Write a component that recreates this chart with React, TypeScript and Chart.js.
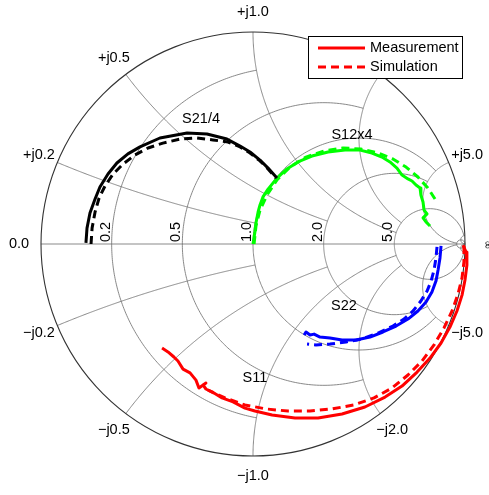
import { useEffect, useRef } from "react";
import { Chart, registerables } from "chart.js";
Chart.register(...registerables);

// Smith chart grid: circle values and the limit each arc is drawn to
const gridValues = [0.2, 0.5, 1, 2, 5, 50];
const gridLimits = [1, 2, 5, 5, 50, Infinity];
const resistanceLabelValues = [0.2, 0.5, 1, 2, 5];
const resistanceLabels = ["0.2", "0.5", "1.0", "2.0", "5.0"];
const reactanceLabelValues = [0.2, 0.5, 1, 2, 5];
const reactanceLabels = ["0.2", "0.5", "1.0", "2.0", "5.0"];

// Reflection coefficients (real / imaginary)
const s21MeasRe = [-0.788, -0.783, -0.769, -0.745, -0.722, -0.684, -0.642, -0.59, -0.533, -0.439, -0.311, -0.217, -0.123, -0.061, -0.014, 0.033, 0.071, 0.113];
const s21MeasIm = [0.005, 0.075, 0.146, 0.212, 0.269, 0.33, 0.382, 0.425, 0.458, 0.5, 0.524, 0.519, 0.495, 0.462, 0.434, 0.396, 0.358, 0.311];
const s21SimRe = [-0.764, -0.759, -0.745, -0.726, -0.698, -0.66, -0.613, -0.557, -0.495, -0.425, -0.344, -0.264, -0.189, -0.118, -0.061, -0.014, 0.033, 0.071, 0.108];
const s21SimIm = [0.0, 0.075, 0.151, 0.217, 0.274, 0.33, 0.377, 0.42, 0.453, 0.476, 0.495, 0.5, 0.491, 0.481, 0.458, 0.429, 0.392, 0.354, 0.311];

const s12MeasRe = [0.0, 0.009, 0.014, 0.024, 0.033, 0.047, 0.071, 0.113, 0.16, 0.212, 0.278, 0.354, 0.434, 0.505, 0.561, 0.608, 0.646, 0.679, 0.703, 0.731, 0.75, 0.769, 0.788, 0.792, 0.802, 0.807, 0.821, 0.802, 0.816, 0.835];
const s12MeasIm = [0.0, 0.057, 0.099, 0.151, 0.184, 0.222, 0.259, 0.311, 0.354, 0.387, 0.415, 0.434, 0.443, 0.443, 0.429, 0.41, 0.387, 0.358, 0.325, 0.307, 0.297, 0.278, 0.264, 0.231, 0.198, 0.16, 0.142, 0.123, 0.104, 0.085];
const s12SimRe = [0.005, 0.014, 0.033, 0.066, 0.113, 0.175, 0.25, 0.335, 0.425, 0.509, 0.59, 0.66, 0.722, 0.778, 0.825, 0.868];
const s12SimIm = [0.0, 0.085, 0.16, 0.231, 0.302, 0.363, 0.41, 0.439, 0.453, 0.448, 0.429, 0.401, 0.363, 0.316, 0.264, 0.198];

const s22MeasRe = [0.887, 0.882, 0.873, 0.863, 0.844, 0.816, 0.778, 0.731, 0.675, 0.613, 0.552, 0.486, 0.42, 0.363, 0.316, 0.288, 0.269, 0.25, 0.241];
const s22MeasIm = [-0.009, -0.066, -0.123, -0.175, -0.226, -0.274, -0.316, -0.354, -0.387, -0.415, -0.439, -0.453, -0.453, -0.443, -0.439, -0.425, -0.429, -0.415, -0.429];
const s22SimRe = [0.868, 0.863, 0.854, 0.84, 0.821, 0.792, 0.755, 0.712, 0.66, 0.59, 0.514, 0.439, 0.363, 0.297, 0.255];
const s22SimIm = [-0.014, -0.066, -0.123, -0.175, -0.222, -0.269, -0.316, -0.354, -0.387, -0.42, -0.448, -0.462, -0.472, -0.476, -0.472];

const s11MeasRe = [0.991, 1.005, 1.009, 1.0, 0.986, 0.962, 0.929, 0.887, 0.835, 0.774, 0.703, 0.623, 0.528, 0.42, 0.307, 0.198, 0.09, 0.009, -0.038, -0.094, -0.146, -0.184, -0.222, -0.236, -0.222, -0.255, -0.269, -0.297, -0.33, -0.354, -0.373, -0.401, -0.429];
const s11MeasIm = [-0.005, -0.038, -0.099, -0.17, -0.241, -0.316, -0.392, -0.467, -0.538, -0.604, -0.67, -0.722, -0.769, -0.802, -0.821, -0.821, -0.807, -0.788, -0.774, -0.745, -0.726, -0.703, -0.684, -0.665, -0.656, -0.679, -0.642, -0.608, -0.59, -0.552, -0.533, -0.509, -0.491];
const s11SimRe = [0.995, 0.995, 0.986, 0.967, 0.939, 0.901, 0.854, 0.797, 0.731, 0.656, 0.571, 0.476, 0.373, 0.269, 0.165, 0.061, -0.038, -0.132, -0.212];
const s11SimIm = [-0.009, -0.085, -0.16, -0.236, -0.316, -0.396, -0.476, -0.552, -0.618, -0.679, -0.726, -0.759, -0.778, -0.788, -0.788, -0.778, -0.759, -0.726, -0.689];

const curveLabels = ["S21/4", "S12x4", "S22", "S11"];
const curveLabelRe = [-0.245, 0.467, 0.429, 0.009];
const curveLabelIm = [0.59, 0.515, -0.292, -0.632];

const FONT = '14.5px "Liberation Sans", Arial, sans-serif';

const pts = (re: number[], im: number[]) => re.map((r, i) => ({ x: r, y: im[i] }));

const gammaOf = (r: number, x: number): [number, number] => {
  const d = (r + 1) * (r + 1) + x * x;
  return [(r * r - 1 + x * x) / d, (2 * x) / d];
};

const smithGrid = {
  id: "smithGrid",
  beforeDatasetsDraw(chart: any) {
    const { ctx, scales } = chart;
    const sx = scales.x, sy = scales.y;
    const P = (u: number, v: number): [number, number] => [sx.getPixelForValue(u), sy.getPixelForValue(v)];
    const [cx, cy] = P(0, 0);
    const R = sx.getPixelForValue(1) - cx;
    ctx.save();
    ctx.strokeStyle = "#747474";
    ctx.lineWidth = 0.85;
    const N = 240;
    gridValues.forEach((val, k) => {
      const lim = gridLimits[k];
      // constant resistance circle
      ctx.beginPath();
      if (!isFinite(lim)) {
        const [ccx] = P(val / (1 + val), 0);
        ctx.arc(ccx, cy, R / (1 + val), 0, Math.PI * 2);
      } else {
        const a = Math.atan(lim);
        for (let i = 0; i <= N; i++) {
          const phi = -a + (2 * a * i) / N;
          const g = gammaOf(val, Math.tan(phi));
          const p = P(g[0], g[1]);
          if (i === 0) ctx.moveTo(p[0], p[1]); else ctx.lineTo(p[0], p[1]);
        }
      }
      ctx.stroke();
      // constant reactance arcs
      [1, -1].forEach((s) => {
        ctx.beginPath();
        const a = isFinite(lim) ? Math.atan(lim) : Math.PI / 2 - 1e-4;
        for (let i = 0; i <= N; i++) {
          const phi = (a * i) / N;
          const g = gammaOf(Math.tan(phi), s * val);
          const p = P(g[0], g[1]);
          if (i === 0) ctx.moveTo(p[0], p[1]); else ctx.lineTo(p[0], p[1]);
        }
        if (!isFinite(lim)) { const p = P(1, 0); ctx.lineTo(p[0], p[1]); }
        ctx.stroke();
      });
    });
    // real axis
    ctx.beginPath();
    ctx.moveTo(...P(-1, 0));
    ctx.lineTo(...P(1, 0));
    ctx.stroke();
    // outer circle
    ctx.strokeStyle = "#333";
    ctx.lineWidth = 1.1;
    ctx.beginPath();
    ctx.arc(cx, cy, R, 0, Math.PI * 2);
    ctx.stroke();

    // labels
    ctx.fillStyle = "#000";
    ctx.font = FONT;
    ctx.textAlign = "center";
    ctx.textBaseline = "middle";
    const k = 1.094;
    reactanceLabelValues.forEach((val, i) => {
      [1, -1].forEach((s) => {
        const g = gammaOf(0, s * val);
        const p = P(g[0] * k, g[1] * k);
        ctx.fillText((s > 0 ? "+j" : "\u2212j") + reactanceLabels[i], p[0], p[1]);
      });
    });
    const p0 = P(-k, 0);
    ctx.fillText("0.0", p0[0] - 2, p0[1]);
    resistanceLabelValues.forEach((val, i) => {
      const p = P((val - 1) / (val + 1), 0);
      ctx.save();
      ctx.translate(p[0] - 2, p[1] - 2);
      ctx.rotate(-Math.PI / 2);
      ctx.textAlign = "left";
      ctx.textBaseline = "alphabetic";
      ctx.fillText(resistanceLabels[i], 0, 0);
      ctx.restore();
    });
    // infinity
    const pi = P(1.09, 0);
    ctx.save();
    ctx.translate(pi[0] + 4, pi[1] + 1);
    ctx.rotate(-Math.PI / 2);
    ctx.font = '11px "DejaVu Sans", sans-serif';
    ctx.fillText("\u221E", 0, 0);
    ctx.restore();
    // curve names
    curveLabels.forEach((t, i) => {
      const p = P(curveLabelRe[i], curveLabelIm[i]);
      ctx.fillText(t, p[0], p[1]);
    });
    ctx.restore();
  },
  afterDraw(chart: any) {
    const { ctx, chartArea } = chart;
    const x0 = chartArea.right - 157;
    const y0 = chartArea.top + 4;
    ctx.save();
    ctx.fillStyle = "#fff";
    ctx.fillRect(x0 + 0.5, y0 + 0.5, 154, 42);
    ctx.strokeStyle = "#000";
    ctx.lineWidth = 1;
    ctx.strokeRect(x0 + 0.5, y0 + 0.5, 154, 42);
    ctx.strokeStyle = "#ff0000";
    ctx.lineWidth = 3;
    ctx.beginPath();
    ctx.moveTo(x0 + 10, y0 + 12);
    ctx.lineTo(x0 + 57, y0 + 12);
    ctx.stroke();
    ctx.setLineDash([8, 5]);
    ctx.beginPath();
    ctx.moveTo(x0 + 10, y0 + 31);
    ctx.lineTo(x0 + 57, y0 + 31);
    ctx.stroke();
    ctx.setLineDash([]);
    ctx.fillStyle = "#000";
    ctx.font = FONT;
    ctx.textAlign = "left";
    ctx.textBaseline = "middle";
    ctx.fillText("Measurement", x0 + 62, y0 + 12);
    ctx.fillText("Simulation", x0 + 62, y0 + 31);
    ctx.restore();
  },
};

const line = (data: any[], color: string, dashed: boolean) => ({
  data,
  showLine: true,
  borderColor: color,
  backgroundColor: color,
  borderWidth: 3,
  borderDash: dashed ? [8, 5] : [],
  pointRadius: 0,
  fill: false,
  tension: 0,
  clip: false as any,
  borderJoinStyle: "round" as const,
});

export default function App() {
  const ref = useRef<HTMLCanvasElement>(null);
  useEffect(() => {
    const chart = new Chart(ref.current as HTMLCanvasElement, {
      type: "scatter",
      data: {
        datasets: [
          line(pts(s21SimRe, s21SimIm), "#000000", true),
          line(pts(s21MeasRe, s21MeasIm), "#000000", false),
          line(pts(s12SimRe, s12SimIm), "#00ff00", true),
          line(pts(s12MeasRe, s12MeasIm), "#00ff00", false),
          line(pts(s22SimRe, s22SimIm), "#0000ff", true),
          line(pts(s22MeasRe, s22MeasIm), "#0000ff", false),
          line(pts(s11SimRe, s11SimIm), "#ff0000", true),
          line(pts(s11MeasRe, s11MeasIm), "#ff0000", false),
        ] as any,
      },
      options: {
        animation: false,
        responsive: false,
        devicePixelRatio: 1,
        events: [],
        layout: { padding: { left: 41, right: 24, top: 32, bottom: 39 } },
        scales: {
          x: { type: "linear", min: -1, max: 1, display: false },
          y: { type: "linear", min: -1, max: 1, display: false },
        },
        plugins: { legend: { display: false }, tooltip: { enabled: false } },
      },
      plugins: [smithGrid],
    });
    return () => chart.destroy();
  }, []);
  return (
    <div style={{ position: "absolute", left: 0, top: 0, width: 489, height: 495 }}>
      <canvas ref={ref} width={489} height={495} />
    </div>
  );
}
